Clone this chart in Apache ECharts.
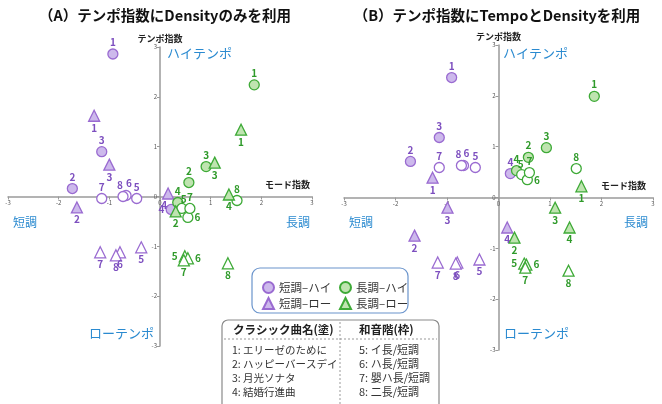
<!DOCTYPE html>
<html>
<head>
<meta charset="utf-8">
<script src="https://cdn.jsdelivr.net/npm/echarts@6/dist/echarts.min.js"></script>
<style>
  html, body { margin: 0; background: #fff; }
  #chart { width: 662px; height: 404px; }
</style>
</head>
<body>
<div id="chart"></div>
<script>
// 番号ラベル（曲は塗り、和音階は枠）
const songNums = [1, 2, 3, 4];
const scaleNums = [5, 6, 7, 8];
const axisTicks = [-3, -2, -1, 0, 1, 2, 3];

// (A) テンポ指数にDensityのみ  [モード指数, テンポ指数]
const aMinHiSong = [[-0.93, 2.86], [-1.73, 0.16], [-1.15, 0.90], [0.22, -0.26]];
const aMinHiScale = [[-0.46, -0.04], [-0.67, 0.02], [-1.15, -0.04], [-0.73, 0.0]];
const aMinLoSong = [[-1.30, 1.62], [-1.64, -0.22], [-1.00, 0.64], [0.16, 0.06]];
const aMinLoScale = [[-0.37, -1.02], [-0.79, -1.12], [-1.18, -1.12], [-0.87, -1.18]];
const aMajHiSong = [[1.86, 2.24], [0.57, 0.28], [0.91, 0.60], [0.35, -0.12]];
const aMajHiScale = [[0.43, -0.24], [0.55, -0.42], [0.59, -0.24], [1.52, -0.08]];
const aMajLoSong = [[1.60, 1.34], [0.31, -0.30], [1.08, 0.68], [1.36, 0.04]];
const aMajLoScale = [[0.49, -1.20], [0.55, -1.24], [0.47, -1.28], [1.34, -1.34]];

// (B) テンポ指数にTempoとDensity
const bMinHiSong = [[-0.91, 2.36], [-1.71, 0.71], [-1.15, 1.18], [0.23, 0.47]];
const bMinHiScale = [[-0.45, 0.59], [-0.68, 0.63], [-1.15, 0.59], [-0.72, 0.63]];
const bMinLoSong = [[-1.28, 0.39], [-1.63, -0.75], [-0.99, -0.20], [0.17, -0.59]];
const bMinLoScale = [[-0.37, -1.22], [-0.80, -1.28], [-1.18, -1.28], [-0.83, -1.30]];
const bMajHiSong = [[1.86, 1.99], [0.58, 0.79], [0.93, 0.98], [0.35, 0.53]];
const bMajHiScale = [[0.45, 0.45], [0.56, 0.35], [0.60, 0.49], [1.51, 0.57]];
const bMajLoSong = [[1.61, 0.22], [0.31, -0.79], [1.10, -0.20], [1.38, -0.59]];
const bMajLoScale = [[0.50, -1.30], [0.54, -1.32], [0.52, -1.38], [1.36, -1.44]];

const songTitles = ["1: エリーゼのために", "2: ハッピーバースデイ", "3: 月光ソナタ", "4: 結婚行進曲"];
const scaleTitles = ["5: イ長/短調", "6: ハ長/短調", "7: 嬰ハ長/短調", "8: 二長/短調"];

const FONT = "Noto Sans CJK JP";
const PURPLE = { line: "#9a6bd1", fill: "#cdb9ec", text: "#7d4fbf" };
const GREEN = { line: "#3eaa37", fill: "#bfe4b0", text: "#2f9a2a" };
const BLUE = "#2a8ad0";

// 重なるラベルの位置調整
const labelFix = {
  aMinHiSong: { 3: { position: "left" } },
  aMinHiScale: { 1: { offset: [3, -1] }, 3: { offset: [-3, 0] } },
  aMinLoSong: { 3: { offset: [-4, 0] } },
  aMajHiScale: { 0: { offset: [2, 2] }, 1: { position: "right" } },
  aMajLoScale: { 0: { position: "left" }, 1: { position: "right" } },
  bMinHiScale: { 1: { offset: [3, -1] }, 3: { offset: [-3, 0] } },
  bMajHiScale: { 0: { offset: [-1, 1] }, 1: { position: "right" } },
  bMajLoScale: { 0: { position: "left" }, 1: { position: "right" } }
};

function makeSeries(key, pts, nums, idx, name, col, shape, filled) {
  const fix = labelFix[key] || {};
  return {
    name: name,
    type: "scatter",
    xAxisIndex: idx,
    yAxisIndex: idx,
    symbol: shape,
    symbolSize: shape === "circle" ? 10 : 11,
    itemStyle: { color: filled ? col.fill : "#fff", borderColor: col.line, borderWidth: 1.3, opacity: 1 },
    label: {
      show: true,
      position: shape === "circle" ? "top" : "bottom",
      distance: 1,
      color: col.text,
      fontFamily: FONT,
      fontWeight: "bold",
      fontSize: 10,
      formatter: (p) => p.data.num
    },
    data: pts.map((v, i) => ({ value: v, num: nums[i], label: fix[i] || {} }))
  };
}

function buildSeries(prefix, idx, d) {
  return [
    makeSeries(prefix + "MinHiSong", d.minHiSong, songNums, idx, "短調–ハイ", PURPLE, "circle", true),
    makeSeries(prefix + "MinHiScale", d.minHiScale, scaleNums, idx, "短調–ハイ", PURPLE, "circle", false),
    makeSeries(prefix + "MinLoSong", d.minLoSong, songNums, idx, "短調–ロー", PURPLE, "triangle", true),
    makeSeries(prefix + "MinLoScale", d.minLoScale, scaleNums, idx, "短調–ロー", PURPLE, "triangle", false),
    makeSeries(prefix + "MajHiSong", d.majHiSong, songNums, idx, "長調–ハイ", GREEN, "circle", true),
    makeSeries(prefix + "MajHiScale", d.majHiScale, scaleNums, idx, "長調–ハイ", GREEN, "circle", false),
    makeSeries(prefix + "MajLoSong", d.majLoSong, songNums, idx, "長調–ロー", GREEN, "triangle", true),
    makeSeries(prefix + "MajLoScale", d.majLoScale, scaleNums, idx, "長調–ロー", GREEN, "triangle", false)
  ];
}

// 軸は原点で交差させる（offsetでグリッド中央へ移動）
const grids = [
  { left: 8, top: 47, width: 304, height: 299 },
  { left: 344, top: 45, width: 309, height: 305 }
];

function valueAxis(idx, isY) {
  const g = grids[idx];
  const ax = {
    type: "value",
    gridIndex: idx,
    min: axisTicks[0],
    max: axisTicks[axisTicks.length - 1],
    interval: 1,
    position: isY ? "left" : "bottom",
    offset: isY ? -g.width / 2 : -g.height / 2,
    axisLine: { show: true, onZero: false, lineStyle: { color: "#9a9a9a", width: 1.5 } },
    axisTick: { show: true, length: 3, lineStyle: { color: "#9a9a9a" } },
    axisLabel: { fontSize: 6, color: "#555", margin: 3, fontFamily: FONT },
    splitLine: { show: false }
  };
  if (isY) {
    ax.name = "テンポ指数";
    ax.nameLocation = "end";
    ax.nameGap = 4;
    ax.nameTextStyle = { fontSize: 9, fontWeight: "bold", color: "#222", fontFamily: FONT };
  }
  return ax;
}

function txt(x, y, text, size, color, bold, align) {
  return {
    type: "text",
    x: x, y: y,
    style: {
      text: text, fontSize: size, fill: color, fontFamily: FONT,
      fontWeight: bold ? "bold" : "normal",
      textAlign: align || "left", textVerticalAlign: "middle"
    },
    z: 10
  };
}

function legendAt(name, left, top) {
  return {
    data: [name], left: left, top: top,
    itemWidth: 11, itemHeight: 11, itemGap: 0,
    textStyle: { fontSize: 11.5, color: "#333", fontFamily: FONT },
    selectedMode: false
  };
}

const graphic = [
  txt(165, 15, "（A）テンポ指数にDensityのみを利用", 14.5, "#111", true, "center"),
  txt(497, 15, "（B）テンポ指数にTempoとDensityを利用", 14.5, "#111", true, "center"),
  txt(310, 185, "モード指数", 9, "#222", true, "right"),
  txt(646, 186, "モード指数", 9, "#222", true, "right"),
  txt(167, 53, "ハイテンポ", 13, BLUE, false),
  txt(13, 222, "短調", 12, BLUE, false),
  txt(310, 222, "長調", 12, BLUE, false, "right"),
  txt(154, 333, "ローテンポ", 13, BLUE, false, "right"),
  txt(503, 53, "ハイテンポ", 13, BLUE, false),
  txt(349, 222, "短調", 12, BLUE, false),
  txt(648, 222, "長調", 12, BLUE, false, "right"),
  txt(504, 333, "ローテンポ", 13, BLUE, false),
  // 凡例の枠
  { type: "rect", shape: { x: 252, y: 268, width: 156, height: 45, r: 8 },
    style: { fill: "#fff", stroke: "#6a94cc", lineWidth: 1.2 }, z: 1 },
  // 曲名・和音階の表
  { type: "rect", shape: { x: 222, y: 320, width: 217, height: 90, r: 6 },
    style: { fill: "#fff", stroke: "#8a8a8a", lineWidth: 1.2 }, z: 1 },
  { type: "line", shape: { x1: 340, y1: 322, x2: 340, y2: 404 },
    style: { stroke: "#999", lineWidth: 1, lineDash: [2, 2] }, z: 2 },
  { type: "line", shape: { x1: 224, y1: 339, x2: 437, y2: 339 },
    style: { stroke: "#999", lineWidth: 1, lineDash: [2, 2] }, z: 2 },
  txt(233, 330, "クラシック曲名(塗)", 11.5, "#222", true),
  txt(359, 330, "和音階(枠)", 11.5, "#222", true)
];
songTitles.forEach((s, i) => graphic.push(txt(232, 350 + i * 14, s, 10.5, "#333", false)));
scaleTitles.forEach((s, i) => graphic.push(txt(359, 350 + i * 14, s, 11, "#333", false)));

const chart = echarts.init(document.getElementById("chart"));
chart.setOption({
  animation: false,
  grid: grids,
  xAxis: [valueAxis(0, false), valueAxis(1, false)],
  yAxis: [valueAxis(0, true), valueAxis(1, true)],
  legend: [
    legendAt("短調–ハイ", 257, 276),
    legendAt("長調–ハイ", 334, 276),
    legendAt("短調–ロー", 257, 292),
    legendAt("長調–ロー", 334, 292)
  ],
  graphic: graphic,
  series: [
    ...buildSeries("a", 0, {
      minHiSong: aMinHiSong, minHiScale: aMinHiScale, minLoSong: aMinLoSong, minLoScale: aMinLoScale,
      majHiSong: aMajHiSong, majHiScale: aMajHiScale, majLoSong: aMajLoSong, majLoScale: aMajLoScale
    }),
    ...buildSeries("b", 1, {
      minHiSong: bMinHiSong, minHiScale: bMinHiScale, minLoSong: bMinLoSong, minLoScale: bMinLoScale,
      majHiSong: bMajHiSong, majHiScale: bMajHiScale, majLoSong: bMajLoSong, majLoScale: bMajLoScale
    })
  ]
});
</script>
</body>
</html>
